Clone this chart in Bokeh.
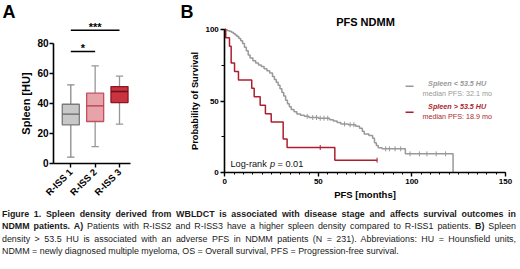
import math
import numpy as np
from bokeh.plotting import figure
from bokeh.models import Range1d, FixedTicker, Label, Div
from bokeh.layouts import column, row
from bokeh.embed import file_html
from bokeh.resources import INLINE

# ---------------- data: panel A (box plot) ----------------
groups = ["R-ISS 1", "R-ISS 2", "R-ISS 3"]
whisk_lo = [4, 11, 26]
q1 = [25.5, 27.8, 40.4]
median = [32.7, 38.2, 47.8]
q3 = [39.3, 46.7, 51.1]
whisk_hi = [52.2, 64.9, 58.0]
y_ticks_a = [0, 20, 40, 60, 80]
sig_from = [1, 1]
sig_to = [2, 3]
sig_level = [74.5, 88.7]
sig_text = ["*", "***"]

# ---------------- data: panel B (Kaplan-Meier) ----------------
low_t = [0, 0.5, 1.5, 2.5, 3.5, 4.5, 5.5, 6.5, 7.5, 8.5, 9.5, 10.5, 11.5, 12.5, 13.5, 15, 16.5, 18,
         19.5, 21, 22.5, 24, 25.5, 26.5, 27.5, 28.5, 29.5, 30.5, 31.5, 32.5, 33.5, 34.5, 35.5, 37,
         38.5, 40.5, 42.5, 45, 50, 56, 58, 60, 62, 66, 70, 72, 73.5, 74.5, 77, 79, 80, 81, 82, 84,
         96.5, 122]
low_s = [100, 99.5, 99, 98.5, 97.8, 97, 96, 95, 93.5, 92, 90, 87.5, 85, 82, 80, 78, 76.5, 75, 74,
         72.5, 71, 69.5, 67, 65, 63, 61, 58.5, 56, 53.5, 50.5, 48, 46, 44, 42.5, 41, 40, 39.3, 38.5,
         38, 37, 36, 35, 34, 33.5, 32.5, 31, 29, 27, 26, 24, 21, 19, 17.5, 16.7, 13.2, 0]
low_censor = [44, 47, 49, 51, 53, 55, 64, 67, 69, 86, 88, 91, 94, 99, 104, 108, 113, 118]

high_t = [0, 0.5, 2.5, 3.4, 5.2, 7.3, 14.4, 15.7, 18.9, 21.7, 24.8, 31.2, 33.3, 58.8, 81.4]
high_s = [100, 94.1, 88.2, 76.5, 70.6, 64.7, 58.8, 52.9, 47.1, 41.2, 35.3, 23.5, 17.6, 8.8, 8.8]
high_censor = [51, 81.4]

x_ticks_b = [0, 50, 100, 150]
y_ticks_b = [0, 50, 100]

GRAY = "#999999"
RED = "#ad1f2e"
FONT = "Liberation Sans"


def style_axes(p):
    for ax in list(p.xaxis) + list(p.yaxis):
        ax.axis_line_color = "black"
        ax.axis_line_width = 1.6
        ax.major_tick_line_color = "black"
        ax.major_tick_line_width = 1.4
        ax.major_tick_in = 0
        ax.major_tick_out = 4
        ax.minor_tick_in = 0
        ax.minor_tick_out = 2
        ax.minor_tick_line_color = "black"
        ax.minor_tick_line_width = 1
        ax.major_label_text_font = FONT
        ax.major_label_text_font_style = "bold"
        ax.major_label_text_color = "black"
        ax.axis_label_text_font = FONT
        ax.axis_label_text_font_style = "bold"
        ax.axis_label_text_color = "black"
    p.grid.visible = False
    p.outline_line_color = None
    p.background_fill_color = "white"
    p.border_fill_color = "white"
    p.min_border = 0


# ================= panel A =================
pa = figure(width=178, height=203, x_range=Range1d(-1.887, 5.423), y_range=Range1d(-26.87, 108.47),
            output_backend="svg", toolbar_location=None)
style_axes(pa)
pa.xaxis.fixed_location = 0
pa.xaxis.bounds = (0.29, 3.45)
pa.xaxis.ticker = FixedTicker(ticks=[1, 2, 3])
pa.xaxis.major_label_overrides = {1: groups[0], 2: groups[1], 3: groups[2]}
pa.xaxis.major_label_orientation = math.pi / 4
pa.xaxis.major_label_text_font_size = "9.5px"
pa.xaxis.major_label_standoff = 3
pa.xaxis.minor_tick_line_color = None
pa.yaxis.fixed_location = 0.29
pa.yaxis.ticker = FixedTicker(ticks=y_ticks_a)
pa.yaxis.bounds = (0, 80)
pa.yaxis.minor_tick_line_color = None
pa.yaxis.major_label_text_font_size = "10px"
pa.yaxis.major_label_standoff = 1
pa.yaxis.axis_label = "Spleen [HU]"
pa.yaxis.axis_label_text_font_size = "11px"
pa.yaxis.axis_label_standoff = 2

cat_x = np.arange(1, len(groups) + 1, dtype=float)
box_w = 0.7
cap_w = 0.3
box_fill = ["#c8c8c8", "#e6a3aa", "#c9323f"]
box_line = ["#7a7a7a", "#c2505e", "#8a1722"]
med_line = ["#666666", "#b23a4a", "#6e0f19"]
whisk_col = ["#8a8a8a", "#979797", "#979797"]

pa.segment(x0=cat_x, y0=q3, x1=cat_x, y1=whisk_hi, line_color=whisk_col, line_width=1.3)
pa.segment(x0=cat_x, y0=q1, x1=cat_x, y1=whisk_lo, line_color=whisk_col, line_width=1.3)
pa.segment(x0=cat_x - cap_w / 2, y0=whisk_hi, x1=cat_x + cap_w / 2, y1=whisk_hi, line_color=whisk_col, line_width=1.3)
pa.segment(x0=cat_x - cap_w / 2, y0=whisk_lo, x1=cat_x + cap_w / 2, y1=whisk_lo, line_color=whisk_col, line_width=1.3)
pa.vbar(x=cat_x, width=box_w, bottom=q1, top=q3, fill_color=box_fill, line_color=box_line, line_width=1.3)
pa.segment(x0=cat_x - box_w / 2, y0=median, x1=cat_x + box_w / 2, y1=median, line_color=med_line, line_width=1.3)

for a, b, lvl, txt in zip(sig_from, sig_to, sig_level, sig_text):
    pa.segment(x0=[a], y0=[lvl], x1=[b], y1=[lvl], line_color="black", line_width=1.5)
    pa.add_layout(Label(x=(a + b) / 2, y=lvl, text=txt, text_align="center", text_baseline="alphabetic",
                        y_offset=3, text_font=FONT, text_font_style="bold", text_font_size="11px",
                        text_color="black"))

pa.add_layout(Label(x=-1.805, y=107.6, text="A", text_align="left", text_baseline="top",
                    text_font=FONT, text_font_style="bold", text_font_size="18px", text_color="black"))

# ================= panel B =================
pb = figure(width=342, height=203, x_range=Range1d(-24.75, 158.04), y_range=Range1d(-21.38, 119.99),
            output_backend="svg", toolbar_location=None)
style_axes(pb)
pb.xaxis.fixed_location = 0
pb.xaxis.ticker = FixedTicker(ticks=x_ticks_b, minor_ticks=list(range(0, 151, 5)))
pb.xaxis.bounds = (0, 150)
pb.xaxis.major_label_text_font_size = "8px"
pb.xaxis.major_label_standoff = 2
pb.xaxis.axis_label = "PFS [months]"
pb.xaxis.axis_label_text_font_size = "9.5px"
pb.xaxis.axis_label_standoff = 2
pb.yaxis.fixed_location = 0
pb.yaxis.ticker = FixedTicker(ticks=y_ticks_b, minor_ticks=[0, 25, 50, 75, 100])
pb.yaxis.bounds = (0, 100)
pb.yaxis.minor_tick_out = 3
pb.yaxis.major_label_text_font_size = "8px"
pb.yaxis.major_label_standoff = 2
pb.yaxis.axis_label = "Probability of Survival"
pb.yaxis.axis_label_text_font_size = "9.3px"
pb.yaxis.axis_label_standoff = 2

pb.step(low_t, low_s, mode="after", line_color=GRAY, line_width=1.5)
pb.step(high_t, high_s, mode="after", line_color=RED, line_width=1.5)


def surv_at(ts, ss, times):
    ts = np.asarray(ts, dtype=float)
    ss = np.asarray(ss, dtype=float)
    idx = np.searchsorted(ts, np.asarray(times, dtype=float), side="right") - 1
    return ss[idx]


pb.scatter(low_censor, surv_at(low_t, low_s, low_censor), marker="dash", angle=math.pi / 2,
           size=5, line_color=GRAY, line_width=1)
pb.scatter(high_censor, surv_at(high_t, high_s, high_censor), marker="dash", angle=math.pi / 2,
           size=5, line_color=RED, line_width=1)

# legend (manual, GraphPad-style)
pb.segment(x0=[96.6], y0=[60.3], x1=[100.9], y1=[60.3], line_color=GRAY, line_width=1.5)
pb.segment(x0=[96.6], y0=[42.2], x1=[100.9], y1=[42.2], line_color=RED, line_width=1.5)
legend_items = [("Spleen < 53.5 HU", 62.4, GRAY, "bold italic"),
                ("median PFS: 32.1 mo", 55.4, GRAY, "normal"),
                ("Spleen > 53.5 HU", 46.4, RED, "bold italic"),
                ("median PFS: 18.9 mo", 39.4, RED, "normal")]
for txt, yy, col, sty in legend_items:
    pb.add_layout(Label(x=124.2, y=yy, text=txt, text_align="center", text_baseline="middle",
                        text_font=FONT, text_font_style=sty, text_font_size="7.2px", text_color=col))

# log-rank annotation
for txt, off, sty in [("Log-rank", 0, "normal"), ("p", 39.5, "italic"), ("= 0.01", 47, "normal")]:
    pb.add_layout(Label(x=3.05, y=5.8, x_offset=off, text=txt, text_align="left", text_baseline="middle",
                        text_font=FONT, text_font_style=sty, text_font_size="9.2px", text_color="#111111"))

pb.add_layout(Label(x=75.2, y=104.7, text="PFS NDMM", text_align="center", text_baseline="middle",
                    text_font=FONT, text_font_style="bold", text_font_size="11px", text_color="black"))
pb.add_layout(Label(x=-23.7, y=119.1, text="B", text_align="left", text_baseline="top",
                    text_font=FONT, text_font_style="bold", text_font_size="18px", text_color="black"))

# ================= caption =================
line_css = "text-align:justify;text-align-last:justify;"
caption = (
    "<div style=\"font-family:'Liberation Sans',Arial,sans-serif;font-size:8.9px;line-height:12.4px;"
    "color:#1a1a1a;padding-top:5px;padding-left:2px;width:516px;\">"
    f"<div style='{line_css}'><b>Figure 1. Spleen density derived from WBLDCT is associated with disease stage and affects survival outcomes in</b></div>"
    f"<div style='{line_css}'><b>NDMM patients. A)</b> Patients with R-ISS2 and R-ISS3 have a higher spleen density compared to R-ISS1 patients. <b>B)</b> Spleen</div>"
    f"<div style='{line_css}'>density &gt; 53.5 HU is associated with an adverse PFS in NDMM patients (N = 231). Abbreviations: HU = Hounsfield units,</div>"
    "<div style='text-align:left;'>NDMM = newly diagnosed multiple myeloma, OS = Overall survival, PFS = Progression-free survival.</div>"
    "</div>"
)
cap = Div(text=caption, width=520, height=66, margin=0)

layout = column(row(pa, pb), cap)
open("out.html", "w").write(file_html(layout, INLINE))
